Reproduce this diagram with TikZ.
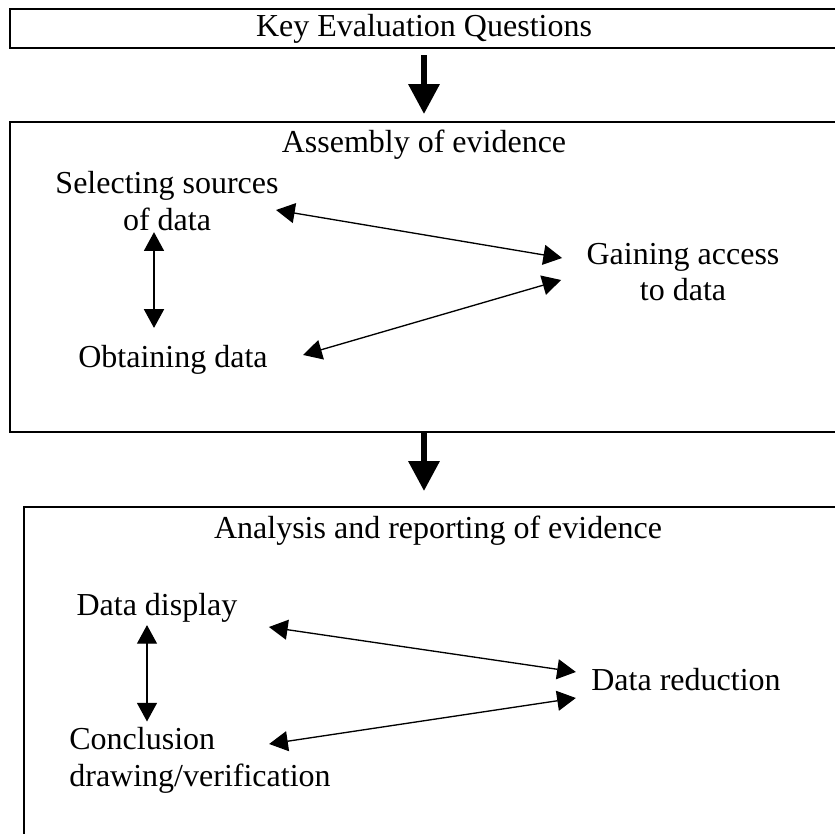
\documentclass[tikz,border=0pt]{standalone}
\usepackage{fontspec}
\setmainfont{Liberation Serif}
\usetikzlibrary{arrows.meta}

\tikzset{
  panel/.style={draw, line width=0.75pt, minimum width=310.5pt},
  twoway/.style={<->, >={Triangle[length=7pt,width=7.5pt]}, line width=0.5pt},
  bigdown/.style={->, >={Triangle[length=11.25pt,width=11.25pt]}, line width=2.4pt}
}

\begin{document}
\begin{tikzpicture}[x=0.375pt, y=-0.375pt, inner sep=0pt,
    font=\fontsize{12}{13.8}\selectfont]
  \useasboundingbox (0,0) rectangle (835,834);
  \clip (0,0) rectangle (835,834);
  \node[panel, minimum height=14.625pt] (keq) at (424,28.5)
    {Key Evaluation Questions};
  \node[panel, minimum height=116.25pt] (assembly) at (424,277) {};
  \node[panel, minimum height=150pt] (analysis) at (438,707) {};
  \node (asmhead) at (424,145) {Assembly of evidence};
  \node (anahead) at (438,531) {Analysis and reporting of evidence};
  \node[align=center] (sel) at (167,201) {Selecting sources\\of data};
  \node (obt) at (173,360) {Obtaining data};
  \node[align=center] (gain) at (683,272) {Gaining access\\to data};
  \node (dd) at (157,608) {Data display};
  \node (dr) at (686,680) {Data reduction};
  \node[align=left] (con) at (200,760) {Conclusion\\drawing/verification};
  \draw[bigdown, shorten <=2.4pt, shorten >=2.6pt] (keq) -- (assembly);
  \draw[bigdown, shorten >=5.6pt] (assembly.south)
    -- (assembly.south |- analysis.north);
  \draw[twoway] ([shift={(-3,9)}]sel.east) -- ([shift={(-24,-14)}]gain.west);
  \draw[twoway] ([shift={(35,-5)}]obt.east) -- ([shift={(-25,8)}]gain.west);
  \draw[twoway] ([shift={(-13,1)}]sel.south) -- ([shift={(-19,-17)}]obt.north);
  \draw[twoway] ([shift={(31,19)}]dd.east) -- ([shift={(-15,-8)}]dr.west);
  \draw[twoway] ([shift={(-62,-16)}]con.east) -- ([shift={(-15,18)}]dr.west);
  \draw[twoway] ([shift={(-10,2)}]dd.south) -- ([shift={(-53,-5)}]con.north);
\end{tikzpicture}
\end{document}
